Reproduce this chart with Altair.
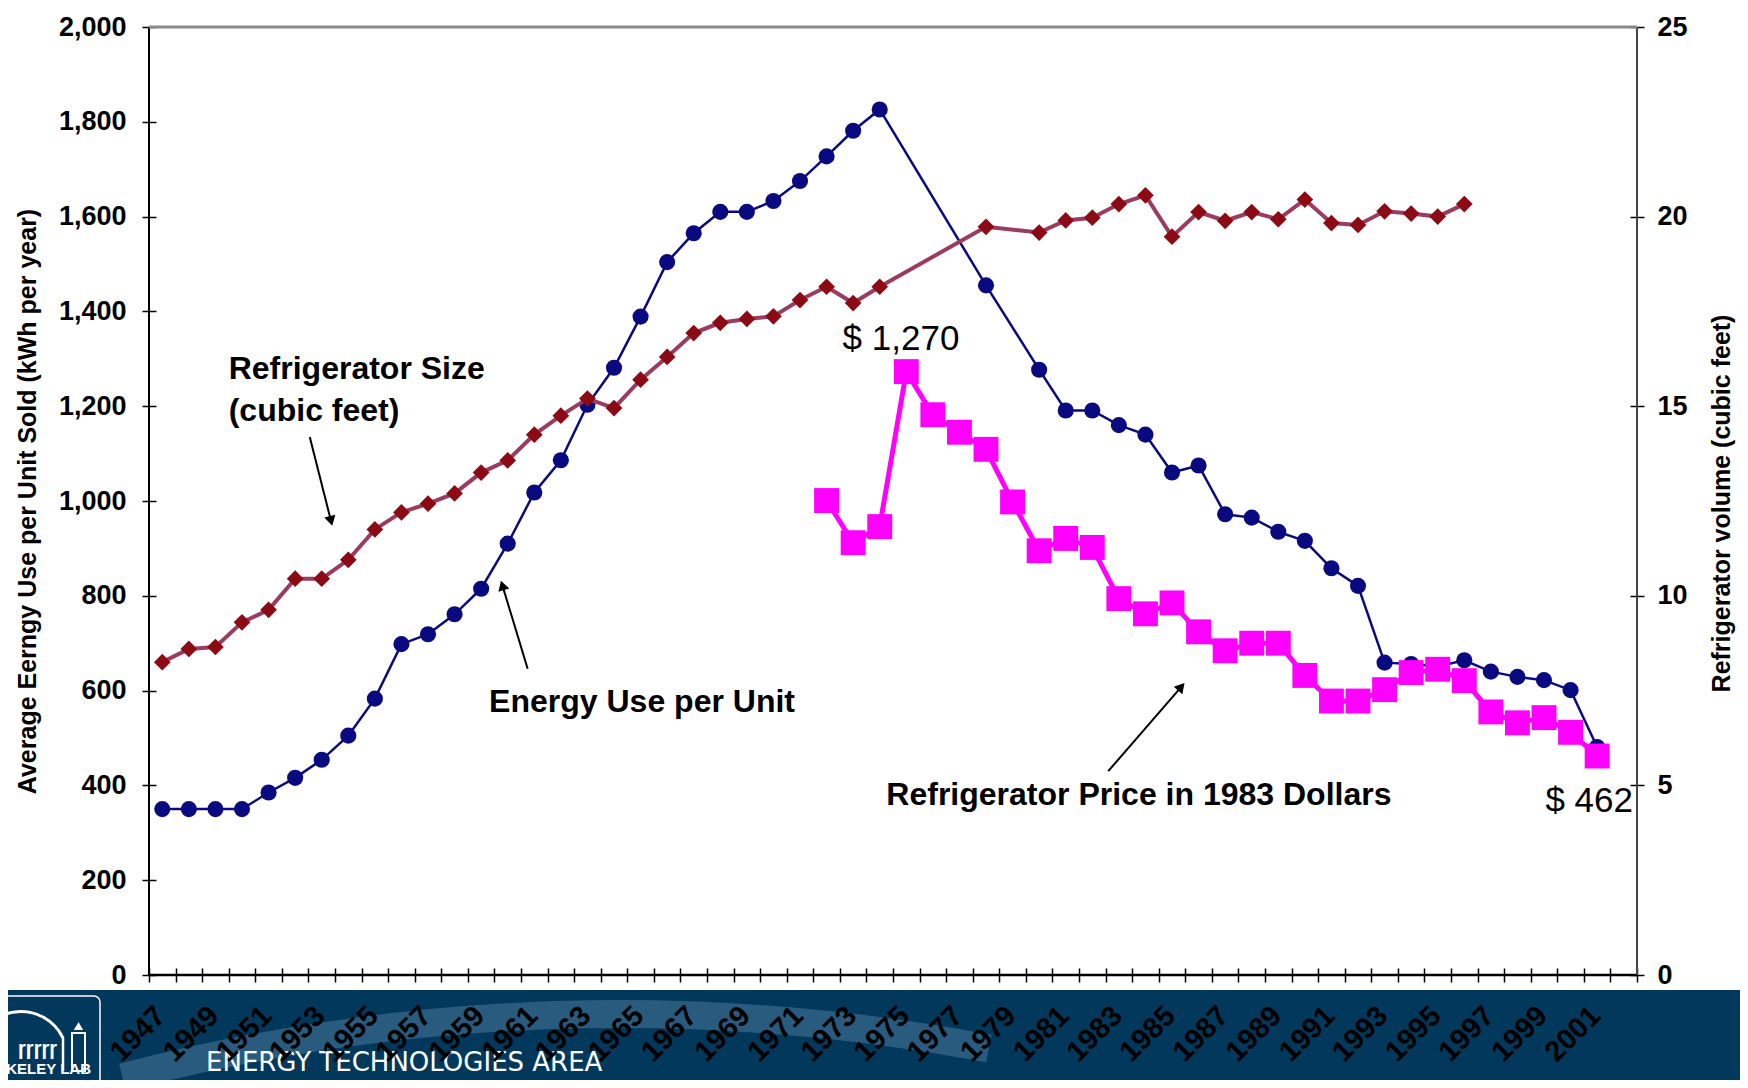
import altair as alt
import pandas as pd

# ---------------- data ----------------
energy_years = list(range(1947, 1975)) + [1978] + list(range(1980, 2002))
energy_kwh = [350, 350, 350, 350, 385, 416, 454, 505, 583, 698,
              719, 761, 815, 910, 1018, 1086, 1203, 1281, 1389, 1504,
              1565, 1610, 1610, 1633, 1675, 1727, 1781, 1826,
              1455,
              1277, 1191, 1191, 1160, 1140, 1060, 1075, 972, 965, 935,
              916, 858, 821, 659, 656, 651, 664, 640, 629, 622, 601, 481]

size_years = list(range(1947, 1975)) + [1978] + list(range(1980, 1997))
size_cuft = [8.25, 8.6, 8.65, 9.3, 9.63, 10.45, 10.45, 10.95, 11.75, 12.2,
             12.43, 12.7, 13.25, 13.57, 14.25, 14.75, 15.2, 14.95, 15.7, 16.3,
             16.93, 17.2, 17.3, 17.37, 17.8, 18.15, 17.72, 18.15,
             19.73,
             19.58, 19.9, 19.97, 20.33, 20.56, 19.47, 20.12, 19.89, 20.12,
             19.93, 20.45, 19.83, 19.78, 20.14, 20.08, 20.0, 20.33]

price_years = list(range(1972, 2002))
price_usd = [1001, 912, 946, 1273, 1182, 1145, 1109, 998, 895, 921,
             902, 794, 762, 785, 724, 684, 700, 700, 632, 578,
             578, 602, 638, 645, 621, 555, 532, 543, 512, 462]

label_years = [str(y) for y in range(1947, 2002, 2)]

left_ticks = list(range(0, 2001, 200))
right_ticks = [0, 5, 10, 15, 20, 25]
x_first, x_last = 1946.5, 2002.5
x_boundaries = [x_first + i for i in range(int(x_last - x_first) + 1)]

notes_bold = pd.DataFrame({
    "yr": [1949.5, 1949.5, 1959.3, 1974.25],
    "v": [1278, 1190, 576, 380],
    "t": ["Refrigerator Size", "(cubic feet)", "Energy Use per Unit",
          "Refrigerator Price in 1983 Dollars"],
})
note_peak = pd.DataFrame({"yr": [1974.8], "v": [1342], "t": ["$ 1,270"]})
note_end = pd.DataFrame({"yr": [2002.35], "v": [368], "t": ["$ 462"]})

arrows = pd.DataFrame({
    "yr": [1952.55, 1960.75, 1982.6],
    "v": [1135, 646, 430],
    "yr2": [1953.35, 1959.8, 1985.35],
    "v2": [958, 822, 608],
    "a": [166, 343, 41],
})

frame = pd.DataFrame({
    "yr": [x_first, x_first, x_last, x_first],
    "yr2": [x_last, x_first, x_last, x_last],
    "v": [0, 0, 0, 2000],
    "v2": [0, 2000, 2000, 2000],
    "c": ["#000000", "#000000", "#444444", "#8a8a8a"],
    "w": [2.5, 2, 2, 3],
})

# ---------------- styling ----------------
FONT = "Liberation Sans"
NAVY = "#02385c"
W, H = 1488, 948
PAD = {"left": 141, "top": 19, "right": 103, "bottom": 105}
BOTTOM = H + PAD["bottom"]

xsc = alt.Scale(domain=[x_first, x_last], nice=False, zero=False)
x_axis = alt.Axis(values=x_boundaries, labels=False, ticks=True, tickSize=14,
                  tickColor="black", tickWidth=1.5, offset=-7, domain=False,
                  grid=False, title=None)

yL_sc = alt.Scale(domain=[0, 2000], nice=False, zero=True)
yL_axis = alt.Axis(values=left_ticks, format=",d", labelFont=FONT,
                   labelFontSize=27, labelFontWeight="bold", labelColor="black",
                   labelPadding=16, offset=-7, tickSize=14, tickColor="black",
                   tickWidth=1.5, domain=False, grid=False,
                   title="Average Eerngy Use per Unit Sold (kWh per year)",
                   titleFont=FONT, titleFontSize=25, titleFontWeight="bold",
                   titleColor="black", titleAngle=270, titleX=-129, titleY=H / 2,
                   titleAlign="center", titleBaseline="middle")

yR_sc = alt.Scale(domain=[0, 25], nice=False, zero=True)
yR_axis = alt.Axis(orient="right", values=right_ticks, labelFont=FONT,
                   labelFontSize=27, labelFontWeight="bold", labelColor="black",
                   labelPadding=13, offset=-7, tickSize=14, tickColor="black",
                   tickWidth=1.5, domain=False, grid=False,
                   title="Refrigerator volume (cubic feet)",
                   titleFont=FONT, titleFontSize=25, titleFontWeight="bold",
                   titleColor="black", titleAngle=270, titleX=91, titleY=H / 2 + 2,
                   titleAlign="center", titleBaseline="middle")


def X():
    return alt.X("yr:Q", scale=xsc, axis=x_axis)


def YL():
    return alt.Y("v:Q", scale=yL_sc, axis=yL_axis)


def YR():
    return alt.Y("v:Q", scale=yR_sc, axis=yR_axis)


one = pd.DataFrame({"d": [0]})

# ---------------- decoration: bottom banner ----------------
banner = alt.Chart(one).mark_rect(color=NAVY).encode(
    x=alt.value(-141), x2=alt.value(W + 103), y=alt.value(963), y2=alt.value(BOTTOM))

glow = alt.Chart(one).mark_arc(
    radius=2000, radius2=1972, theta=6.03, theta2=6.47,
    color="#8fb6d6", opacity=0.28).encode(x=alt.value(471), y=alt.value(2973))

logo_box = alt.Chart(one).mark_rect(
    fillOpacity=0, stroke="white", strokeWidth=1.5, cornerRadius=6).encode(
    x=alt.value(-160), x2=alt.value(-49), y=alt.value(969), y2=alt.value(1080))
logo_dome = alt.Chart(one).mark_arc(
    radius=48, radius2=45, theta=4.9, theta2=7.4, color="white").encode(
    x=alt.value(-128), y=alt.value(1031))
logo_wall = alt.Chart(one).mark_rule(color="white", strokeWidth=2.5).encode(
    x=alt.value(-86), y=alt.value(1010), y2=alt.value(1044))
logo_tower = alt.Chart(one).mark_rect(
    fillOpacity=0, stroke="white", strokeWidth=2).encode(
    x=alt.value(-77), x2=alt.value(-64), y=alt.value(1006), y2=alt.value(1044))
logo_spire = alt.Chart(one).mark_point(
    shape="triangle-up", filled=True, color="white", size=90, opacity=1).encode(
    x=alt.value(-70.5), y=alt.value(999))
logo_cols = alt.Chart(one).mark_text(
    text="ɼɼɼɼɼ", font=FONT, fontSize=20, fontWeight="bold", color="white",
    align="right", baseline="middle").encode(x=alt.value(-92), y=alt.value(1022))
logo_text = alt.Chart(one).mark_text(
    text="BERKELEY LAB", font=FONT, fontSize=15, fontWeight="bold", color="white",
    align="right", baseline="alphabetic").encode(x=alt.value(-58), y=alt.value(1047))
area_text = alt.Chart(one).mark_text(
    text="ENERGY TECHNOLOGIES AREA", font="DejaVu Sans", fontSize=26,
    color="white", align="left", baseline="alphabetic").encode(
    x=alt.value(57), y=alt.value(1044))

# ---------------- frame and data ----------------
frame_l = alt.Chart(frame).mark_rule().encode(
    x=X(), x2="yr2:Q", y=YL(), y2="v2:Q",
    color=alt.Color("c:N", scale=None),
    strokeWidth=alt.StrokeWidth("w:Q", scale=None))

edf = pd.DataFrame({"yr": energy_years, "v": energy_kwh})
energy_line = alt.Chart(edf).mark_line(color="#0a0a80", strokeWidth=2.5).encode(x=X(), y=YL())
energy_pts = alt.Chart(edf).mark_point(
    shape="circle", filled=True, size=260, color="#0a0a80", opacity=1).encode(x=X(), y=YL())

pdf = pd.DataFrame({"yr": price_years, "v": price_usd})
price_line = alt.Chart(pdf).mark_line(color="#ff00ff", strokeWidth=5).encode(x=X(), y=YL())
price_pts = alt.Chart(pdf).mark_point(
    shape="square", filled=True, size=620, color="#ff00ff", opacity=1).encode(x=X(), y=YL())

sdf = pd.DataFrame({"yr": size_years, "v": size_cuft})
size_line = alt.Chart(sdf).mark_line(color="#9b3b5f", strokeWidth=4).encode(x=X(), y=YR())
size_pts = alt.Chart(sdf).mark_point(
    shape="diamond", filled=True, size=280, color="#8b0a14", opacity=1).encode(x=X(), y=YR())

# ---------------- annotations ----------------
t_bold = alt.Chart(notes_bold).mark_text(
    font=FONT, fontSize=32, fontWeight="bold", color="black",
    align="left", baseline="middle").encode(x=X(), y=YL(), text="t:N")
t_peak = alt.Chart(note_peak).mark_text(
    font=FONT, fontSize=35, color="black", align="center",
    baseline="middle").encode(x=X(), y=YL(), text="t:N")
t_end = alt.Chart(note_end).mark_text(
    font=FONT, fontSize=35, color="black", align="right",
    baseline="middle").encode(x=X(), y=YL(), text="t:N")

arrow_lines = alt.Chart(arrows).mark_rule(color="black", strokeWidth=2).encode(
    x=X(), x2="yr2:Q", y=YL(), y2="v2:Q")
arrow_heads = alt.Chart(arrows).mark_point(
    shape="triangle-up", filled=True, size=130, color="black", opacity=1).encode(
    x=alt.X("yr2:Q", scale=xsc, axis=x_axis),
    y=alt.Y("v2:Q", scale=yL_sc, axis=yL_axis),
    angle=alt.Angle("a:Q", scale=None))

ldf = pd.DataFrame({"yr": [int(s) for s in label_years], "lbl": label_years})
year_labels = alt.Chart(ldf).mark_text(
    font=FONT, fontSize=29, fontWeight="bold", color="black",
    angle=315, align="right", baseline="top", dx=-16).encode(
    x=X(), y=alt.value(963), text="lbl:N")

left = alt.layer(banner, glow, logo_box, logo_dome, logo_wall, logo_tower,
                 logo_spire, logo_cols, logo_text, area_text, frame_l,
                 energy_line, energy_pts, price_line, price_pts,
                 t_bold, t_peak, t_end, arrow_lines, arrow_heads, year_labels)
right = alt.layer(size_line, size_pts)

chart = alt.layer(left, right).resolve_scale(y="independent").properties(
    width=W, height=H, padding=PAD,
    autosize=alt.AutoSizeParams(type="none"),
    background="white",
).configure_view(stroke=None)

chart.save("out.html", embed_options={"renderer": "svg", "actions": False})
